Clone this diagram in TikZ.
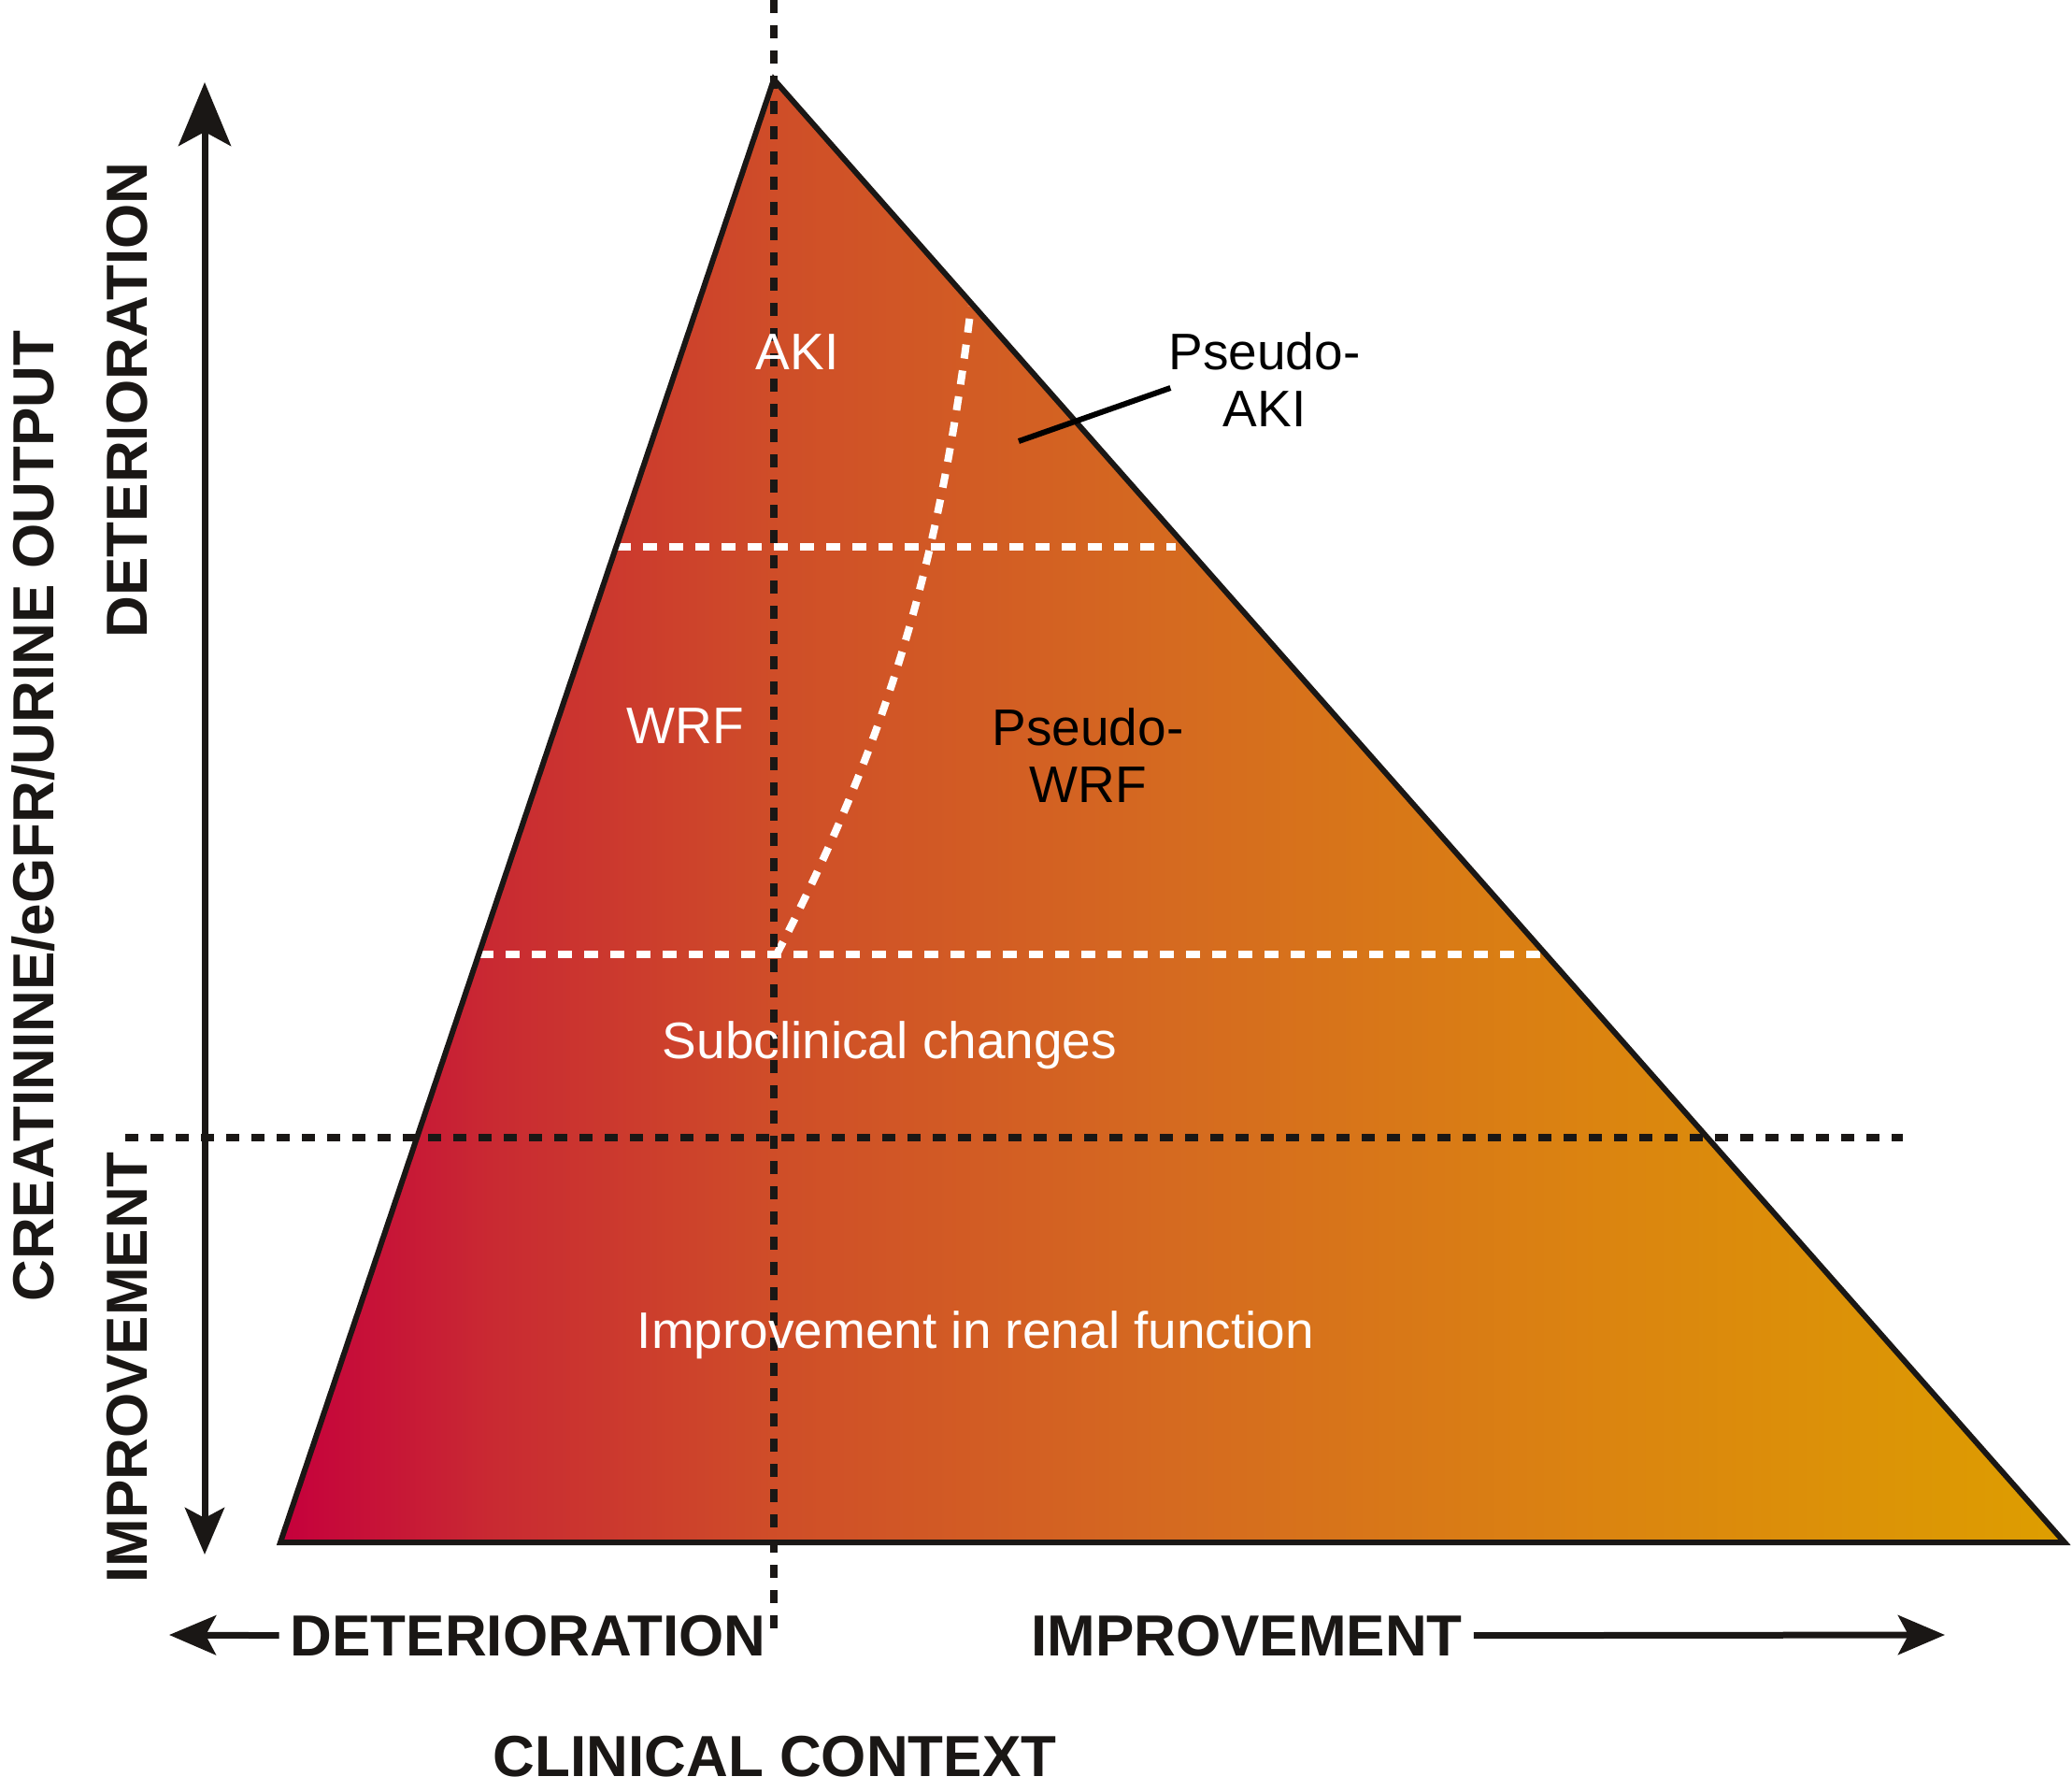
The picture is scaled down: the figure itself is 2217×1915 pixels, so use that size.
\documentclass[tikz,border=0pt]{standalone}
\usepackage{fontspec}
\setmainfont{Liberation Sans}
\usetikzlibrary{arrows.meta,calc}
\definecolor{inkblack}{RGB}{26,23,21}
\definecolor{grad0}{RGB}{197,0,60}
\definecolor{grad1}{RGB}{201,42,50}
\definecolor{grad2}{RGB}{207,78,40}
\definecolor{grad3}{RGB}{213,106,32}
\definecolor{grad4}{RGB}{219,132,16}
\definecolor{grad5}{RGB}{221,158,0}
\pgfdeclarehorizontalshading{renalgrad}{100bp}{color(0bp)=(grad0); color(25bp)=(grad0);
  color(31bp)=(grad1); color(39bp)=(grad2); color(50bp)=(grad3); color(62bp)=(grad4);
  color(75bp)=(grad5); color(100bp)=(grad5)}
\tikzset{
  axislbl/.style  ={font=\fontsize{62}{66}\selectfont\bfseries, text=inkblack, inner sep=0pt, anchor=base},
  zonelbl/.style  ={font=\fontsize{55}{61}\selectfont, text=white, inner sep=0pt, anchor=base},
  pseudolbl/.style={font=\fontsize{55}{61}\selectfont, text=black, align=center, inner sep=0pt},
  blkdash/.style  ={draw=inkblack, line width=8pt, dash pattern=on 14pt off 13pt},
  whtdash/.style  ={draw=white, line width=8pt, dash pattern=on 15pt off 13pt},
  triedge/.style  ={draw=inkblack, line width=6pt, line join=miter},
  leader/.style   ={draw=black, line width=6pt},
  axisline/.style ={draw=inkblack, line width=7pt},
  smalltip/.style ={-{Stealth[length=50pt, width=42pt, inset=11pt]}},
}

\begin{document}
\begin{tikzpicture}[x=1pt, y=-1pt]
\useasboundingbox (0,0) rectangle (2217,1915);
\coordinate (apex) at (828,85);
\coordinate (botl) at (300,1650);
\coordinate (botr) at (2209,1650);
\shade[shading=renalgrad] (apex) -- (botl) -- (botr) -- cycle;
% zone borders
\coordinate (akil) at (660,585);   \coordinate (akir) at (1258,585);
\coordinate (wrfl) at (513,1021);  \coordinate (wrfr) at (1651,1021);
\coordinate (splitlow) at (831,1021); \coordinate (splittop) at (1039,328);
\draw[whtdash] (akil) -- (akir);
\draw[whtdash] (wrfl) -- (wrfr);
\draw[whtdash] (splitlow) .. controls (961,770) and (1008,578) .. (splittop);
% axes crossing
\coordinate (ctxtop) at (828,0);   \coordinate (ctxbot) at (828,1755);
\coordinate (lvlleft) at (134,1217); \coordinate (lvlright) at (2036,1217);
\draw[blkdash] (ctxtop) -- (ctxbot);
\draw[blkdash] (lvlleft) -- (lvlright);
\draw[triedge] (apex) -- (botl) -- (botr) -- cycle;
% zone labels
\node[zonelbl] (aki) at (853,395) {AKI};
\node[zonelbl] (wrf) at (733,795) {WRF};
\node[zonelbl] (subc) at (952,1132) {Subclinical changes};
\node[zonelbl] (impr) at (1044,1442) {Improvement in renal function};
\node[pseudolbl] (paki) at (1353,406) {Pseudo-\\AKI};
\node[pseudolbl] (pwrf) at (1164,808) {Pseudo-\\WRF};
\coordinate (pakiroot) at (1090,472);
\draw[leader] (pakiroot) -- ($(paki.west)+(2,9)$);
% vertical axis
\node[axislbl, rotate=90] (yaxis) at (57,873) {CREATININE/eGFR/URINE OUTPUT};
\node[axislbl, rotate=90] (ydet) at (157,428) {DETERIORATION};
\node[axislbl, rotate=90] (yimp) at (157,1463) {IMPROVEMENT};
\coordinate (ylow) at (219,1663);  \coordinate (yhigh) at (219,88);
\draw[axisline, {Stealth[length=50pt, width=42pt, inset=11pt]}-{Stealth[length=68pt, width=56pt, inset=15pt]}] (ylow) -- (yhigh);
% horizontal axis
\node[axislbl, outer xsep=12pt] (xdet) at (565,1771) {DETERIORATION};
\node[axislbl, outer xsep=12pt] (ximp) at (1334,1771) {IMPROVEMENT};
\node[axislbl] (xctx) at (829,1900) {CLINICAL CONTEXT};
\coordinate (lefttip) at (181,1749); \coordinate (righttip) at (2081,1749);
\draw[axisline, smalltip] (xdet.west) -- (lefttip);
\draw[axisline, smalltip] (ximp.east) -- (righttip);
\end{tikzpicture}
\end{document}
